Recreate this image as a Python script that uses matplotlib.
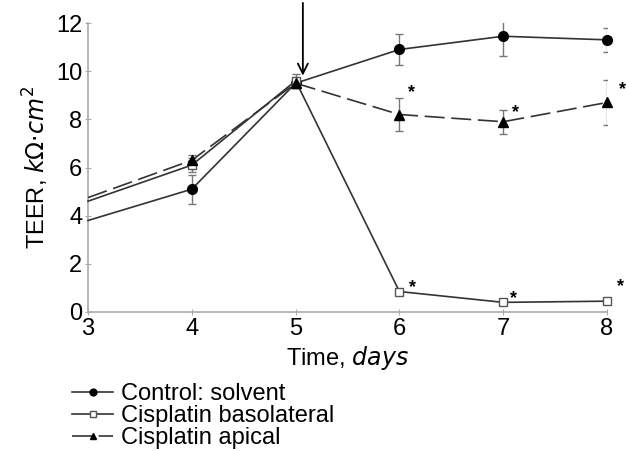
import matplotlib
matplotlib.use("Agg")
import matplotlib.pyplot as plt

days = [3, 4, 5, 6, 7, 8]

control = [3.8, 5.1, 9.5, 10.9, 11.45, 11.3]
control_err = [0, 0.6, 0.2, 0.65, 0.8, 0.5]

baso = [4.6, 6.1, 9.6, 0.85, 0.4, 0.45]
baso_err = [0, 0.3, 0.3, 0.1, 0.1, 0.1]

apical = [4.75, 6.3, 9.5, 8.2, 7.9, 8.7]
apical_err = [0, 0.2, 0.2, 0.7, 0.5, 0.95]

# significance stars (x, y)
star_x = [6.12, 7.12, 8.15, 6.13, 7.1, 8.13]
star_y = [9.1, 8.3, 9.25, 1.0, 0.55, 1.05]

plt.rcParams['font.family'] = ['Liberation Sans', 'DejaVu Sans']
fs = 17

fig = plt.figure(figsize=(6.26, 4.51), dpi=100)
ax = fig.add_axes([88/626, 1 - 312/451, (607-88)/626, (312-23)/451])

lc = '#333333'
ekw = dict(ecolor='#777777', elinewidth=1, capsize=3, capthick=1)

ax.errorbar(days[1:], control[1:], yerr=control_err[1:], fmt='none', **ekw)
ax.errorbar(days[1:], baso[1:], yerr=baso_err[1:], fmt='none', **ekw)
ax.errorbar(days[1:], apical[1:], yerr=apical_err[1:], fmt='none', **ekw)

ax.plot(days, control, color=lc, lw=1.2, marker='o', ms=7, mfc='black', mec='black',
        markevery=range(1, 6), label='Control: solvent', clip_on=False, zorder=3)
ax.plot(days, baso, color=lc, lw=1.2, marker='s', ms=6, mfc='white', mec='#555555',
        markevery=range(1, 6), label='Cisplatin basolateral', clip_on=False, zorder=3)
ax.plot(days, apical, color=lc, lw=1.2, ls=(0, (12, 4)), marker='^', ms=7, mfc='black',
        mec='black', markevery=range(1, 6), label='Cisplatin apical', clip_on=False, zorder=3)

for sx, sy in zip(star_x, star_y):
    ax.text(sx, sy, '*', fontsize=13, ha='center', va='center', fontweight='bold')

ax.annotate('', xy=(5.07, 9.7), xytext=(5.07, 12.95),
            arrowprops=dict(arrowstyle='->', color='black', lw=1.3, mutation_scale=18),
            annotation_clip=False)

ax.set_xlim(3, 8)
ax.set_ylim(0, 12)
ax.set_xticks(days)
ax.set_yticks(range(0, 13, 2))
for s in ['top', 'right']:
    ax.spines[s].set_visible(False)
for s in ['left', 'bottom']:
    ax.spines[s].set_color('#aaaaaa')
    ax.spines[s].set_linewidth(1.2)
ax.tick_params(colors='#aaaaaa', labelcolor='black', labelsize=fs, length=4,
               direction='inout', pad=2)

ax.set_xlabel('Time, $\\mathit{days}$', fontsize=fs, labelpad=3)
ax.set_ylabel('TEER, $\\mathit{k\\Omega{\\cdot}cm^2}$', fontsize=fs, labelpad=4)

leg = ax.legend(loc='upper left', bbox_to_anchor=(-0.031, -0.247), frameon=False,
                fontsize=fs, handlelength=1.75, handletextpad=0.35, labelspacing=0.0,
                borderaxespad=0, borderpad=0, markerscale=0.7)

fig.savefig('out.png', dpi=100)
